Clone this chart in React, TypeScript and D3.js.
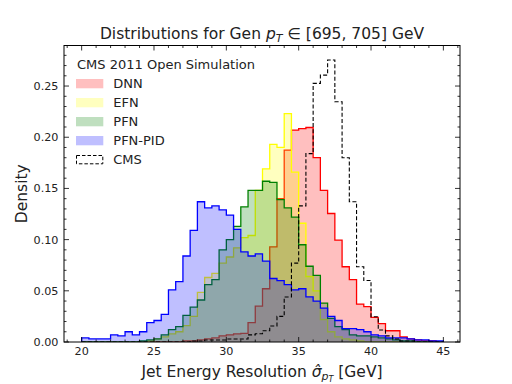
import React from "react";
import * as d3 from "d3";

// histogram bins: 0.5 GeV wide, starting at 20 GeV
const binStart = 20;
const binWidth = 0.5;

const dnn = [
  0, 0, 0, 0, 0, 0, 0, 0, 0, 0,
  0, 0, 0, 0, 0.001, 0.001, 0.002, 0.003, 0.004, 0.006,
  0.007, 0.008, 0.0085, 0.019, 0.035, 0.052, 0.093, 0.14, 0.1875, 0.207,
  0.2085, 0.2095, 0.18, 0.148, 0.1255, 0.0996, 0.0735, 0.061, 0.037, 0.0345,
  0.024, 0.018, 0.011, 0.011, 0.005, 0.003, 0.002, 0.001, 0.001, 0,
];
const efn = [
  0, 0, 0, 0, 0, 0, 0, 0, 0, 0.001,
  0.003, 0.005, 0.008, 0.01, 0.016, 0.025, 0.0485, 0.063, 0.067, 0.077,
  0.083, 0.092, 0.102, 0.104, 0.148, 0.169, 0.193, 0.19, 0.223, 0.166,
  0.116, 0.064, 0.05, 0.022, 0.01, 0.005, 0.003, 0.002, 0.001, 0,
  0, 0, 0, 0, 0, 0, 0, 0, 0, 0,
];
const pfn = [
  0, 0, 0, 0, 0, 0, 0, 0, 0.001, 0.002,
  0.003, 0.007, 0.012, 0.015, 0.026, 0.034, 0.041, 0.056, 0.061, 0.09,
  0.1, 0.113, 0.132, 0.148, 0.148, 0.157, 0.156, 0.139, 0.131, 0.122,
  0.095, 0.074, 0.065, 0.038, 0.023, 0.015, 0.012, 0.007, 0.006, 0.006,
  0.005, 0.004, 0.003, 0.002, 0.001, 0.001, 0, 0, 0, 0,
];
const pfnPid = [
  0.004, 0.003, 0.003, 0.003, 0.007, 0.006, 0.01, 0.007, 0.01, 0.019,
  0.021, 0.027, 0.051, 0.059, 0.084, 0.109, 0.137, 0.131, 0.133, 0.129,
  0.124, 0.11, 0.088, 0.084, 0.086, 0.079, 0.062, 0.06, 0.056, 0.051,
  0.052, 0.044, 0.04, 0.033, 0.025, 0.021, 0.013, 0.013, 0.012, 0.01,
  0.007, 0.006, 0.004, 0.004, 0.004, 0.003, 0.002, 0.002, 0.001, 0.001,
];
const cms = [
  0, 0, 0, 0, 0, 0, 0, 0, 0, 0,
  0, 0, 0, 0, 0, 0.001, 0.001, 0.002, 0.002, 0.002,
  0.003, 0.003, 0.003, 0.007, 0.008, 0.011, 0.0156, 0.025, 0.044, 0.077,
  0.133, 0.184, 0.2526, 0.2607, 0.2754, 0.2347, 0.18, 0.137, 0.0735, 0.06,
  0.0247, 0.0117, 0.006, 0.003, 0.001, 0.001, 0, 0, 0, 0,
];

const modelNames = ["DNN", "EFN", "PFN", "PFN-PID"];
const modelColors = ["#ff0000", "#ffff00", "#008000", "#0000ff"];
const modelValues = [dnn, efn, pfn, pfnPid];

const xTicks = [20, 25, 30, 35, 40, 45];
const yTicks = [0, 0.05, 0.1, 0.15, 0.2, 0.25];

const W = 512;
const H = 384;
const plot = { left: 64, right: 460, top: 45.5, bottom: 342 };
const font = "'DejaVu Sans', sans-serif";

const x = d3.scaleLinear().domain([18.78, 46.15]).range([plot.left, plot.right]);
const y = d3.scaleLinear().domain([0, 0.2896]).range([plot.bottom, plot.top]);

// outline of a histogram as matplotlib's "step" draws it
const stepPath = (vals: number[]) => {
  const pts: [number, number][] = [[binStart, 0]];
  vals.forEach((v, i) => {
    const e0 = binStart + i * binWidth;
    pts.push([e0, v], [e0 + binWidth, v]);
  });
  pts.push([binStart + vals.length * binWidth, 0]);
  return d3.line().x(d => x(d[0])).y(d => y(d[1]))(pts) || "";
};

const App = () => {
  const xMinor = d3.range(19, 47, 1).filter(v => v % 5 !== 0);
  const yMinor = d3.range(0, 0.29, 0.01).filter(v => Math.abs(v * 20 - Math.round(v * 20)) > 1e-6);
  const major = 5;
  const minor = 2.5;
  const legendX = 76;
  const legendRow = 19;

  return (
    <div style={{ position: "absolute", left: 0, top: 0 }}>
      <svg width={W} height={H} style={{ display: "block", background: "#fff" }} fontFamily={font}>
        <defs>
          <clipPath id="plotclip">
            <rect x={plot.left} y={plot.top} width={plot.right - plot.left} height={plot.bottom - plot.top} />
          </clipPath>
        </defs>

        <g clipPath="url(#plotclip)">
          {modelValues.map((vals, i) => (
            <g key={modelNames[i]}>
              <path d={stepPath(vals)} fill={modelColors[i]} fillOpacity={0.25} stroke="none" />
              <path d={stepPath(vals)} fill="none" stroke={modelColors[i]} strokeWidth={1.3} strokeLinejoin="miter" />
            </g>
          ))}
          <path d={stepPath(cms)} fill="none" stroke="#000" strokeWidth={1.1} strokeDasharray="4,2.2" />
        </g>

        {/* ticks, inward on all four sides */}
        <g stroke="#000" strokeWidth={0.8}>
          {xTicks.map(t => (
            <g key={"xt" + t}>
              <line x1={x(t)} x2={x(t)} y1={plot.bottom} y2={plot.bottom - major} />
              <line x1={x(t)} x2={x(t)} y1={plot.top} y2={plot.top + major} />
            </g>
          ))}
          {xMinor.map(t => (
            <g key={"xm" + t}>
              <line x1={x(t)} x2={x(t)} y1={plot.bottom} y2={plot.bottom - minor} />
              <line x1={x(t)} x2={x(t)} y1={plot.top} y2={plot.top + minor} />
            </g>
          ))}
          {yTicks.map(t => (
            <g key={"yt" + t}>
              <line x1={plot.left} x2={plot.left + major} y1={y(t)} y2={y(t)} />
              <line x1={plot.right} x2={plot.right - major} y1={y(t)} y2={y(t)} />
            </g>
          ))}
          {yMinor.map(t => (
            <g key={"ym" + t}>
              <line x1={plot.left} x2={plot.left + minor} y1={y(t)} y2={y(t)} />
              <line x1={plot.right} x2={plot.right - minor} y1={y(t)} y2={y(t)} />
            </g>
          ))}
        </g>

        <rect x={plot.left} y={plot.top} width={plot.right - plot.left} height={plot.bottom - plot.top}
          fill="none" stroke="#000" strokeWidth={1} />

        {/* tick labels */}
        <g fontSize={11.2} fill="#222">
          {xTicks.map(t => (
            <text key={"xl" + t} x={x(t)} y={355} textAnchor="middle">{t}</text>
          ))}
          {yTicks.map(t => (
            <text key={"yl" + t} x={58.5} y={y(t) + 4} textAnchor="end">{d3.format(".2f")(t)}</text>
          ))}
        </g>

        {/* title */}
        <text x={(plot.left + plot.right) / 2} y={38.5} textAnchor="middle" fontSize={15.5} fill="#222">
          Distributions for Gen <tspan fontStyle="italic">p</tspan>
          <tspan fontStyle="italic" fontSize={11} dy={3}>T</tspan>
          <tspan dy={-3}> ∈ [695, 705] GeV</tspan>
        </text>

        {/* axis labels */}
        <text x={(plot.left + plot.right) / 2} y={376.5} textAnchor="middle" fontSize={15.5} fill="#222">
          Jet Energy Resolution <tspan fontStyle="italic">σ̂</tspan>
          <tspan fontStyle="italic" fontSize={11} dy={3}>p</tspan>
          <tspan fontStyle="italic" fontSize={8} dy={2}>T</tspan>
          <tspan dy={-5}> [GeV]</tspan>
        </text>
        <text transform={`translate(27, ${(plot.top + plot.bottom) / 2}) rotate(-90)`} textAnchor="middle"
          fontSize={15.5} fill="#222">Density</text>

        {/* legend */}
        <g fontSize={13} fill="#222">
          <text x={legendX + 1} y={69}>CMS 2011 Open Simulation</text>
          {modelNames.map((name, i) => (
            <g key={"lg" + name} transform={`translate(0, ${87.7 + i * legendRow})`}>
              <rect x={legendX} y={-8.7} width={27.3} height={9.3} fill={modelColors[i]} fillOpacity={0.25} />
              <text x={113.3} y={0}>{name}</text>
            </g>
          ))}
          <g transform={`translate(0, ${87.7 + 4 * legendRow})`}>
            <rect x={legendX + 0.5} y={-8.2} width={26.3} height={8.3} fill="none" stroke="#000"
              strokeWidth={1} strokeDasharray="3.5,2" />
            <text x={113.3} y={0}>CMS</text>
          </g>
        </g>
      </svg>
    </div>
  );
};

export default App;
